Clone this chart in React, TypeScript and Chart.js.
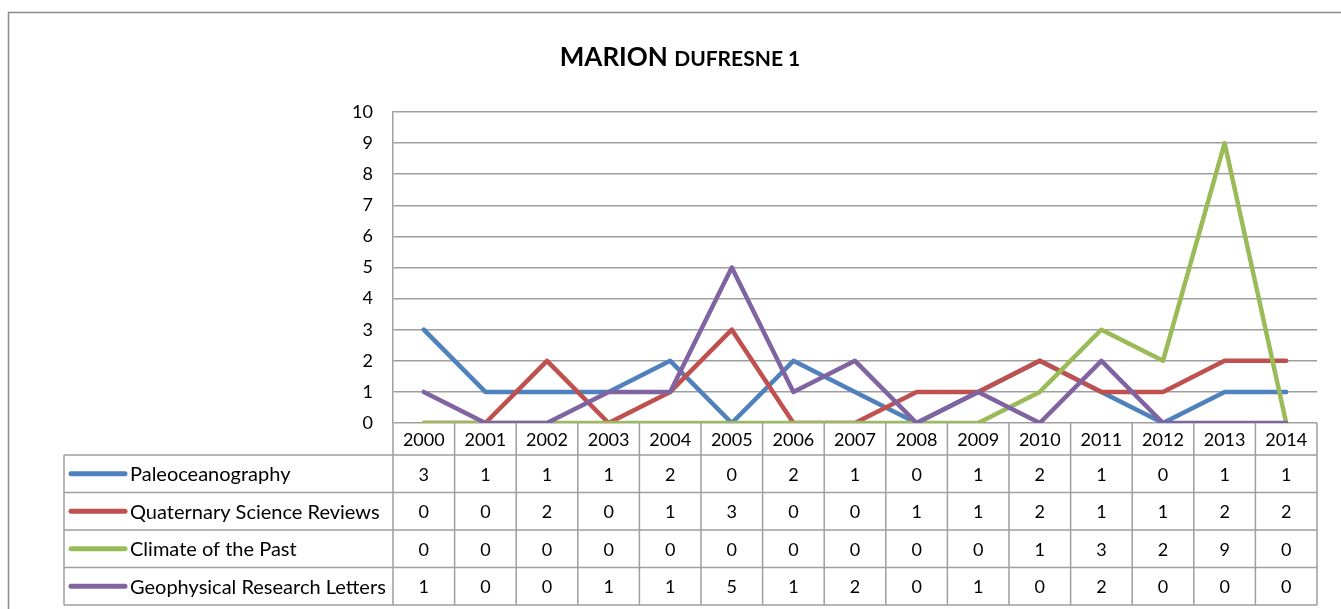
import React, { useEffect, useRef } from "react";
import { Chart, registerables } from "chart.js";

Chart.register(...registerables);

const years = ["2000", "2001", "2002", "2003", "2004", "2005", "2006", "2007", "2008", "2009", "2010", "2011", "2012", "2013", "2014"];
const paleoceanography = [3, 1, 1, 1, 2, 0, 2, 1, 0, 1, 2, 1, 0, 1, 1];
const quaternaryScienceReviews = [0, 0, 2, 0, 1, 3, 0, 0, 1, 1, 2, 1, 1, 2, 2];
const climateOfThePast = [0, 0, 0, 0, 0, 0, 0, 0, 0, 0, 1, 3, 2, 9, 0];
const geophysicalResearchLetters = [1, 0, 0, 1, 1, 5, 1, 2, 0, 1, 0, 2, 0, 0, 0];
const seriesNames = ["Paleoceanography", "Quaternary Science Reviews", "Climate of the Past", "Geophysical Research Letters"];
const seriesColors = ["#4F81BD", "#C0504D", "#9BBB59", "#8064A2"];
const yMin = 0;
const yMax = 10;
const yStep = 1;
const titleMain = "MARION";
const titleSub = "DUFRESNE 1";

const FONT = "Lato, 'Open Sans', sans-serif";
const GRID = "#9f9f9f";
const TEXT = "#000000";

export default function App() {
  const ref = useRef<HTMLCanvasElement | null>(null);

  useEffect(() => {
    const canvas = ref.current;
    if (!canvas) return;
    const series = [paleoceanography, quaternaryScienceReviews, climateOfThePast, geophysicalResearchLetters];

    const framePlugin = {
      id: "frameTitle",
      beforeDraw(chart: any) {
        const ctx = chart.ctx;
        ctx.save();
        ctx.fillStyle = "#ffffff";
        ctx.fillRect(0, 0, chart.width, chart.height);
        ctx.strokeStyle = "#8c8c8c";
        ctx.lineWidth = 1.5;
        ctx.strokeRect(8.5, 12.5, chart.width + 20, chart.height + 20);
        ctx.fillStyle = TEXT;
        ctx.textBaseline = "alphabetic";
        ctx.font = `bold 26px ${FONT}`;
        const w1 = ctx.measureText(titleMain + " ").width;
        ctx.font = `bold 21px ${FONT}`;
        const w2 = ctx.measureText(titleSub).width;
        const cx = 680;
        const x0 = cx - (w1 + w2) / 2;
        ctx.font = `bold 26px ${FONT}`;
        ctx.fillText(titleMain + " ", x0, 66);
        ctx.font = `bold 21px ${FONT}`;
        ctx.fillText(titleSub, x0 + w1, 66);
        ctx.restore();
      },
      afterDraw(chart: any) {
        const ctx = chart.ctx;
        const { left, right, bottom } = chart.chartArea;
        const xs = chart.scales.x;
        const n = years.length;
        const colW = (right - left) / n;
        const headerBottom = bottom + 32;
        const rowH = 37.5;
        const tableLeft = 64;
        const tableBottom = headerBottom + rowH * series.length;
        ctx.save();
        ctx.strokeStyle = GRID;
        ctx.lineWidth = 1.5;
        ctx.beginPath();
        for (let i = 0; i <= n; i++) {
          const xx = left + i * colW;
          ctx.moveTo(xx, bottom);
          ctx.lineTo(xx, tableBottom);
        }
        for (let r = 0; r <= series.length; r++) {
          const yy = headerBottom + r * rowH;
          ctx.moveTo(tableLeft, yy);
          ctx.lineTo(right, yy);
        }
        ctx.moveTo(tableLeft, headerBottom);
        ctx.lineTo(tableLeft, tableBottom);
        ctx.stroke();

        ctx.fillStyle = TEXT;
        ctx.font = `18px ${FONT}`;
        ctx.textAlign = "center";
        ctx.textBaseline = "middle";
        years.forEach((yr, i) => {
          const px = xs.getPixelForValue(i);
          ctx.fillText(yr, px, (bottom + headerBottom) / 2 + 1);
        });
        series.forEach((vals, r) => {
          const cy = headerBottom + r * rowH + rowH / 2 + 1;
          vals.forEach((v, i) => {
            ctx.fillText(String(v), xs.getPixelForValue(i), cy);
          });
        });
        ctx.textAlign = "left";
        ctx.font = `20px ${FONT}`;
        series.forEach((_, r) => {
          const cy = headerBottom + r * rowH + rowH / 2;
          ctx.strokeStyle = seriesColors[r];
          ctx.lineWidth = 5;
          ctx.lineCap = "round";
          ctx.beginPath();
          ctx.moveTo(71, cy);
          ctx.lineTo(125, cy);
          ctx.stroke();
          ctx.fillText(seriesNames[r], 130, cy + 1);
        });
        ctx.restore();
      },
    };

    const chart = new Chart(canvas, {
      type: "line",
      data: {
        labels: years,
        datasets: series.map((vals, i) => ({
          label: seriesNames[i],
          data: vals,
          borderColor: seriesColors[i],
          backgroundColor: seriesColors[i],
          borderWidth: 4.5,
          pointRadius: 0,
          borderCapStyle: "round" as const,
          borderJoinStyle: "round" as const,
          tension: 0,
          order: series.length - i,
        })),
      },
      options: {
        responsive: false,
        animation: false,
        events: [],
        layout: { padding: { left: 0, top: 112, right: 24, bottom: 186 } },
        plugins: { legend: { display: false }, tooltip: { enabled: false }, title: { display: false } },
        scales: {
          x: { display: false, offset: true, grid: { display: false } },
          y: {
            min: yMin,
            max: yMax,
            ticks: { stepSize: yStep, padding: 20, color: TEXT, font: { family: FONT, size: 18 } },
            grid: { color: GRID, lineWidth: 1.5, drawTicks: false },
            border: { display: true, color: GRID, width: 1.5 },
            afterFit: (s: any) => {
              s.width = 393;
            },
          },
        },
      },
      plugins: [framePlugin],
    });
    return () => chart.destroy();
  }, []);

  return (
    <div style={{ position: "fixed", left: 0, top: 0, width: 1341, height: 609, background: "#fff" }}>
      <canvas ref={ref} width={1341} height={609} style={{ display: "block" }} />
    </div>
  );
}
